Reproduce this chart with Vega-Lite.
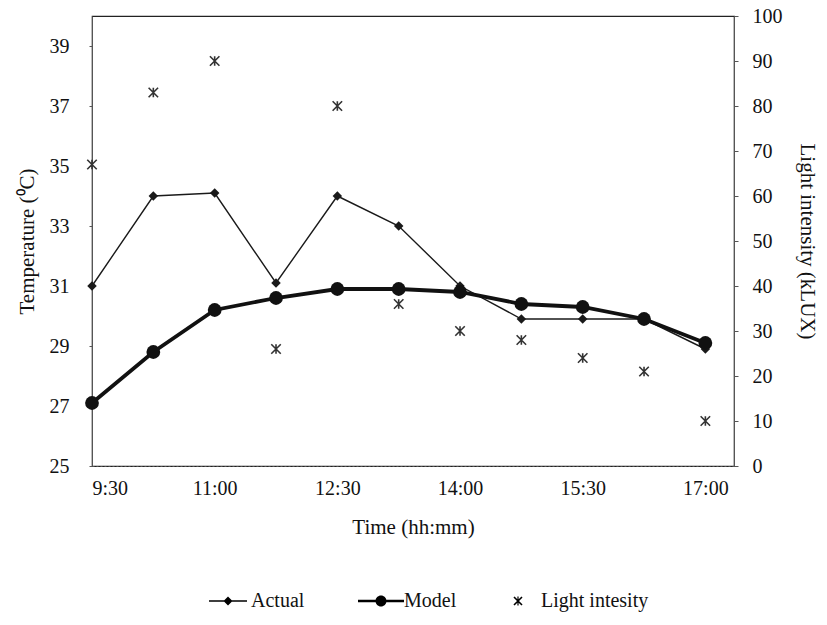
{
  "$schema": "https://vega.github.io/schema/vega-lite/v6.json",
  "width": 642,
  "height": 450,
  "padding": {"left": 16, "top": 6, "right": 2, "bottom": 5},
  "background": "white",
  "config": {
    "font": "Liberation Serif",
    "view": {"stroke": "#222", "strokeWidth": 1.2},
    "axis": {
      "labelFont": "Liberation Serif",
      "titleFont": "Liberation Serif",
      "labelFontSize": 20,
      "titleFontSize": 21,
      "titleFontWeight": "normal",
      "labelColor": "#111",
      "titleColor": "#111",
      "domainColor": "#555",
      "tickColor": "#555",
      "grid": false
    },
    "legend": {
      "labelFont": "Liberation Serif",
      "labelFontSize": 20,
      "labelColor": "#111"
    }
  },
  "data": {
    "values": [
      {"time": "9:30", "hour": 9.5, "actual": 31.0, "model": 27.1, "light": 67},
      {"time": "10:15", "hour": 10.25, "actual": 34.0, "model": 28.8, "light": 83},
      {"time": "11:00", "hour": 11, "actual": 34.1, "model": 30.2, "light": 90},
      {"time": "11:45", "hour": 11.75, "actual": 31.1, "model": 30.6, "light": 26},
      {"time": "12:30", "hour": 12.5, "actual": 34.0, "model": 30.9, "light": 80},
      {"time": "13:15", "hour": 13.25, "actual": 33.0, "model": 30.9, "light": 36},
      {"time": "14:00", "hour": 14, "actual": 31.0, "model": 30.8, "light": 30},
      {"time": "14:45", "hour": 14.75, "actual": 29.9, "model": 30.4, "light": 28},
      {"time": "15:30", "hour": 15.5, "actual": 29.9, "model": 30.3, "light": 24},
      {"time": "16:15", "hour": 16.25, "actual": 29.9, "model": 29.9, "light": 21},
      {"time": "17:00", "hour": 17, "actual": 28.9, "model": 29.1, "light": 10}
    ]
  },
  "encoding": {
    "x": {
      "field": "hour",
      "type": "quantitative",
      "scale": {"domain": [9.5, 17.35], "nice": false, "zero": false},
      "axis": {
        "title": "Time (hh:mm)",
        "values": [9.5, 11, 12.5, 14, 15.5, 17],
        "labelExpr": "floor(datum.value) + ':' + (datum.value % 1 == 0 ? '00' : '30')",
        "labelPadding": 12,
        "titlePadding": 18,
        "tickSize": 0,
        "domainDash": [2, 2]
      }
    }
  },
  "layer": [
    {
      "encoding": {
        "y": {
          "field": "actual",
          "type": "quantitative",
          "scale": {"domain": [25, 40], "nice": false, "zero": false},
          "axis": {
            "title": "Temperature (⁰C)",
            "values": [25, 27, 29, 31, 33, 35, 37, 39],
            "tickSize": 3,
            "labelPadding": 20,
            "titlePadding": 12
          }
        }
      },
      "layer": [
        {"mark": {"type": "line", "color": "#1a1a1a", "strokeWidth": 1.4}},
        {"mark": {"type": "point", "shape": "diamond", "filled": true, "size": 90, "color": "#1a1a1a", "opacity": 1}},
        {"mark": {"type": "line", "color": "#111", "strokeWidth": 3.8}, "encoding": {"y": {"field": "model", "type": "quantitative"}}},
        {"mark": {"type": "point", "shape": "circle", "filled": true, "size": 190, "color": "#111", "opacity": 1}, "encoding": {"y": {"field": "model", "type": "quantitative"}}},
        {
          "data": {"values": [{"series": "Actual"}, {"series": "Model"}, {"series": "Light intesity"}]},
          "mark": {"type": "point", "filled": true, "color": "black"},
          "encoding": {
            "x": {"value": 0},
            "y": {"value": 0},
            "opacity": {"value": 0},
            "shape": {
              "field": "series",
              "type": "nominal",
              "scale": {
                "domain": ["Actual", "Model", "Light intesity"],
                "range": [
                  "M-1.9,-0.07L1.9,-0.07L1.9,0.07L-1.9,0.07Z M0,-0.45L0.45,0L0,0.45L-0.45,0Z",
                  "M-2.3,-0.12L2.3,-0.12L2.3,0.12L-2.3,0.12Z M-0.55,0A0.55,0.55 0 1,1 0.55,0A0.55,0.55 0 1,1 -0.55,0Z",
                  "M-0.343,-0.457L0.457,0.343L0.343,0.457L-0.457,-0.343Z M-0.457,0.343L0.343,-0.457L0.457,-0.343L-0.343,0.457Z M-0.06,-0.45L0.06,-0.45L0.06,0.45L-0.06,0.45Z"
                ]
              },
              "legend": {
                "title": null,
                "orient": "none",
                "legendX": 125,
                "legendY": 574,
                "direction": "horizontal",
                "symbolSize": 400,
                "labelOffset": 12,
                "columnPadding": 50,
                "encode": {
                  "symbols": {
                    "update": {
                      "fill": {"value": "#111"},
                      "opacity": {"value": 1}
                    }
                  }
                }
              }
            }
          }
        }
      ]
    },
    {
      "mark": {"type": "point", "shape": "M-1,-1L1,1M-1,1L1,-1M0,-1L0,1", "size": 90, "color": "#333", "strokeWidth": 1.6, "filled": false, "opacity": 1},
      "encoding": {
        "y": {
          "field": "light",
          "type": "quantitative",
          "scale": {"domain": [0, 100], "nice": false},
          "axis": {
            "orient": "right",
            "title": "Light intensity (kLUX)",
            "values": [0, 10, 20, 30, 40, 50, 60, 70, 80, 90, 100],
            "tickSize": 4,
            "labelPadding": 14,
            "titlePadding": 14
          }
        }
      }
    }
  ],
  "resolve": {"scale": {"y": "independent"}}
}
